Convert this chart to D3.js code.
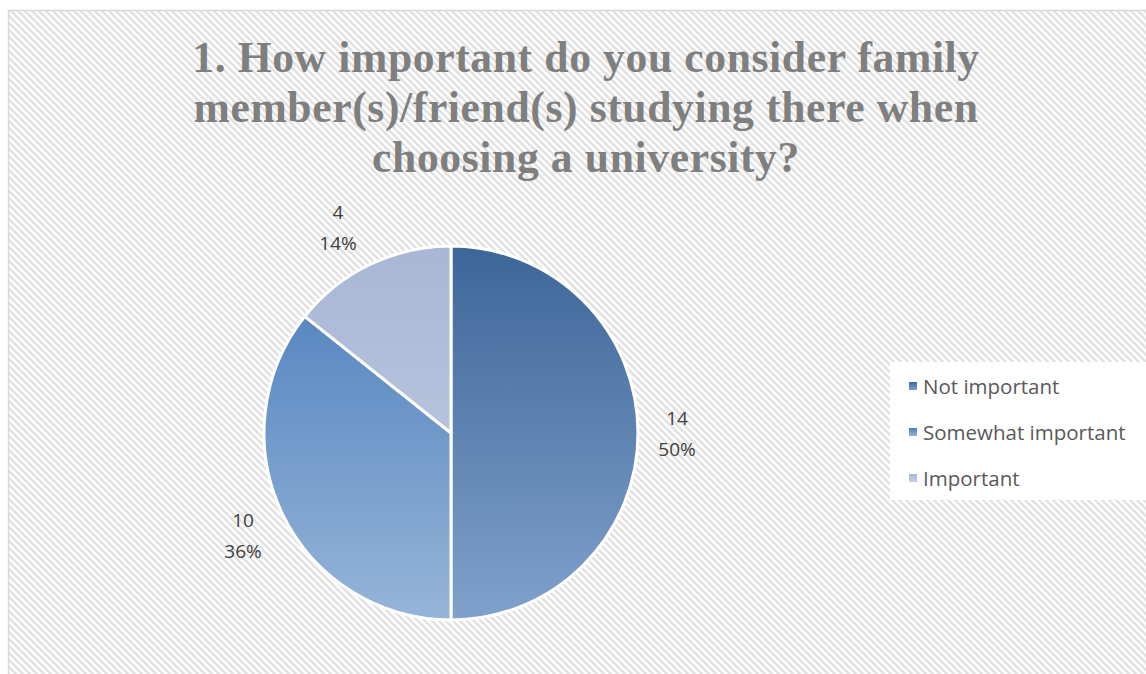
<!DOCTYPE html>
<html><head><meta charset="utf-8">
<script src="https://cdn.jsdelivr.net/npm/d3@7"></script>
<style>html,body{margin:0;padding:0;background:#fff;overflow:hidden}</style>
</head><body>
<svg id="c" width="1146" height="674"></svg>
<script>
const titleLines = ["1. How important do you consider family", "member(s)/friend(s) studying there when", "choosing a university?"];
const categories = ["Not important", "Somewhat important", "Important"];
const values = [14, 10, 4];
const percents = ["50%", "36%", "14%"];
const gradTop = ["#3d6698", "#4a7ebb", "#a8b7d5"];
const gradBottom = ["#80a1cc", "#96b4d9", "#c3cfe5"];

const svg = d3.select("#c");
const defs = svg.append("defs");
const pat = defs.append("pattern").attr("id","hatch").attr("patternUnits","userSpaceOnUse")
  .attr("width",7).attr("height",7);
pat.append("rect").attr("width",7).attr("height",7).attr("fill","#fff");
pat.append("path").attr("d","M-1,-1 L8,8 M-8,-1 L1,8 M6,-1 L15,8")
  .attr("stroke","#e2e2e2").attr("stroke-width",2.6);

svg.append("rect").attr("x",8.5).attr("y",10.5).attr("width",1160).attr("height",700)
  .attr("fill","url(#hatch)").attr("stroke","#d9d9d9").attr("stroke-width",1.5);

// title
const title = svg.append("text").attr("text-anchor","middle")
  .attr("font-family","'Liberation Serif', serif").attr("font-weight","bold")
  .attr("font-size",40).attr("fill","#7f7f7f").attr("letter-spacing",0.6);
const spans = titleLines.map((t,i)=> title.append("tspan").attr("x",586).attr("y",72+i*50).text(t));
const w0 = spans[0].node().getComputedTextLength();
title.attr("font-size", Math.min(40 * 790 / w0, 44));

// pie
const cx = 451, cy = 433, r = 187;
const pie = d3.pie().sort(null).value(d=>d)(values);
const arc = d3.arc().innerRadius(0).outerRadius(r);
values.forEach((v,i)=>{
  const g = defs.append("linearGradient").attr("id","g"+i).attr("gradientUnits","userSpaceOnUse")
    .attr("x1",0).attr("x2",0).attr("y1",-r).attr("y2",r);
  g.append("stop").attr("offset","0%").attr("stop-color",gradTop[i]);
  g.append("stop").attr("offset","100%").attr("stop-color",gradBottom[i]);
});
const pg = svg.append("g").attr("transform",`translate(${cx},${cy})`);
pg.selectAll("path").data(pie).join("path")
  .attr("d",arc).attr("fill",(d,i)=>`url(#g${i})`)
  .attr("stroke","#fff").attr("stroke-width",3).attr("stroke-linejoin","round");

// labels
const labelPos = [[677,433],[243,535],[338,227]];
const lg = svg.append("g").attr("font-family","'Open Sans', sans-serif").attr("font-size",19)
  .attr("fill","#404040").attr("text-anchor","middle");
pie.forEach((d,i)=>{
  const [x,y] = labelPos[i];
  lg.append("text").attr("x",x).attr("y",y-8).text(values[i]);
  lg.append("text").attr("x",x).attr("y",y+23).text(percents[i]);
});

// legend
const leg = svg.append("g");
leg.append("rect").attr("x",890).attr("y",362).attr("width",260).attr("height",138).attr("fill","#fff");
const ly = d3.scalePoint().domain(categories).range([386,478]);
categories.forEach((c,i)=>{
  const y = ly(c);
  const lgd = defs.append("linearGradient").attr("id","lg"+i).attr("x1",0).attr("x2",0).attr("y1",0).attr("y2",1);
  lgd.append("stop").attr("offset","0%").attr("stop-color",gradTop[i]);
  lgd.append("stop").attr("offset","100%").attr("stop-color",gradBottom[i]);
  leg.append("rect").attr("x",909).attr("y",y-4).attr("width",8).attr("height",8).attr("fill",`url(#lg${i})`);
  leg.append("text").attr("x",923).attr("y",y+7.5).text(c)
    .attr("font-family","'Open Sans', sans-serif").attr("font-size",20.5).attr("fill","#595959");
});
</script>
</body></html>
